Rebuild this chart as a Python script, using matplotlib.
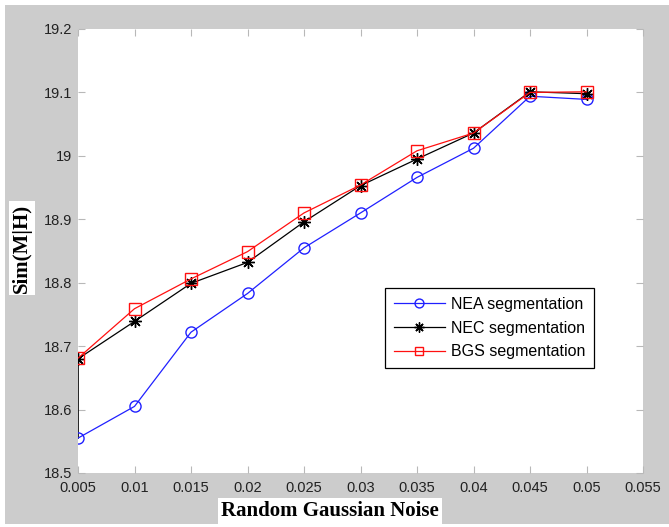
import matplotlib
matplotlib.use("Agg")
import matplotlib.pyplot as plt
from matplotlib.patches import Rectangle

noise = [0.005, 0.01, 0.015, 0.02, 0.025, 0.03, 0.035, 0.04, 0.045, 0.05]
nea = [18.555, 18.605, 18.722, 18.783, 18.855, 18.910, 18.966, 19.012, 19.094, 19.089]
nec = [18.680, 18.739, 18.799, 18.832, 18.896, 18.953, 18.995, 19.036, 19.101, 19.098]
bgs = [18.681, 18.759, 18.806, 18.849, 18.910, 18.954, 19.008, 19.036, 19.100, 19.101]
labels = ["NEA segmentation", "NEC segmentation", "BGS segmentation"]
xticks = [0.005, 0.01, 0.015, 0.02, 0.025, 0.03, 0.035, 0.04, 0.045, 0.05, 0.055]
xticklabels = ["0.005", "0.01", "0.015", "0.02", "0.025", "0.03", "0.035", "0.04", "0.045", "0.05", "0.055"]
yticks = [18.5, 18.6, 18.7, 18.8, 18.9, 19.0, 19.1, 19.2]
yticklabels = ["18.5", "18.6", "18.7", "18.8", "18.9", "19", "19.1", "19.2"]

W, H = 669, 527
fig = plt.figure(figsize=(W / 100, H / 100), dpi=100, facecolor="white")
bg = Rectangle((5 / W, 3 / H), 1 - 5 / W, 1 - 8 / H, transform=fig.transFigure,
               facecolor="#cccccc", edgecolor="none", zorder=-10)
fig.add_artist(bg)

ax = fig.add_axes([78 / W, (H - 473) / H, 565 / W, 444 / H])
ax.set_facecolor("white")

lw = 0.9
star = (8, 2, 0)
ax.plot([noise[0], noise[0]], [nea[0], nec[0]], color="black", lw=1.2)
ax.plot(noise, nea, color="#2020ff", lw=lw, marker="o", ms=8, mfc="none", mec="#2020ff", mew=1.0, label=labels[0])
ax.plot(noise, nec, color="black", lw=lw, marker=star, ms=9, mfc="black", mec="black", mew=1.0, label=labels[1])
ax.plot(noise, bgs, color="#ff1010", lw=lw, marker="s", ms=8, mfc="none", mec="#ff1010", mew=1.0, label=labels[2])

ax.set_xlim(0.005, 0.055)
ax.set_ylim(18.5, 19.2)
ax.set_xticks(xticks)
ax.set_xticklabels(xticklabels)
ax.set_yticks(yticks)
ax.set_yticklabels(yticklabels)
for s in ax.spines.values():
    s.set_visible(False)
ax.tick_params(direction="in", length=5, width=0.8, color="#b8b8b8", top=True, right=True,
               labelsize=10.5, labelcolor="#222222")
ax.tick_params(axis="x", pad=6)
ax.tick_params(axis="y", pad=4)
for t in ax.get_xticklabels() + ax.get_yticklabels():
    t.set_fontfamily("Liberation Sans")

leg = ax.legend(loc="upper left", bbox_to_anchor=(0.543, 0.4167), borderaxespad=0,
                fancybox=False, framealpha=1, edgecolor="black", frameon=True,
                prop={"family": "Liberation Sans", "size": 11.5}, handlelength=3.2,
                labelspacing=0.55, borderpad=0.55, handletextpad=0.4, markerscale=0.8)
leg.get_frame().set_linewidth(0.9)

fig.text(330 / W, 1 - 511 / H, "Random Gaussian Noise", ha="center", va="center",
         family="Liberation Serif", weight="bold", fontsize=15,
         bbox=dict(facecolor="white", edgecolor="none", pad=2))
fig.text(22 / W, 1 - 248 / H, "Sim(M|H)", ha="center", va="center", rotation=90,
         family="Liberation Serif", weight="bold", fontsize=15,
         bbox=dict(facecolor="white", edgecolor="none", pad=2))

fig.savefig("out.png", dpi=100, facecolor=fig.get_facecolor())
